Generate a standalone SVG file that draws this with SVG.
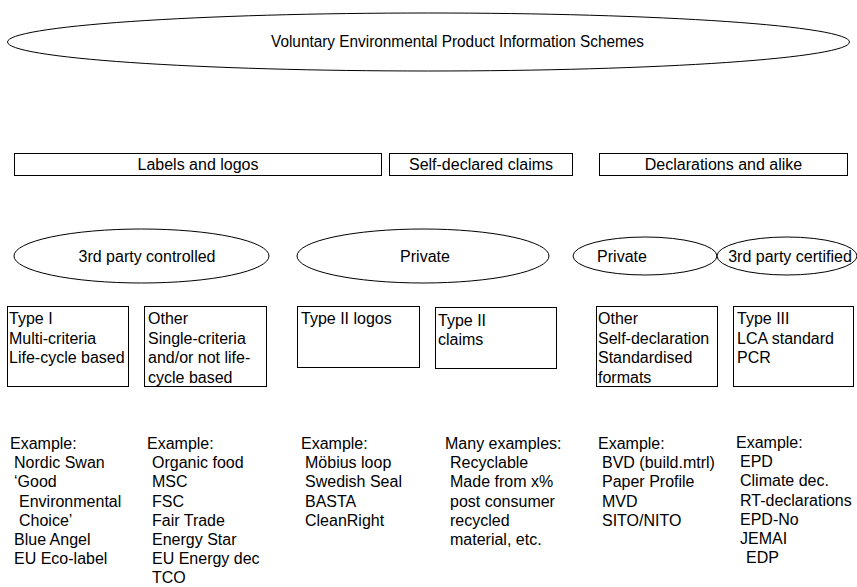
<svg xmlns="http://www.w3.org/2000/svg" width="857" height="587" viewBox="0 0 857 587">
<style>
.s{fill:#fff;stroke:#000;stroke-width:1}
text{font-family:"Liberation Sans",Arial,sans-serif;font-size:16px;fill:#000}
.c{text-anchor:middle}
</style>
<rect width="857" height="587" fill="#fff"/>
<g id="root">
<ellipse class="s" cx="428.5" cy="42" rx="421" ry="29"/>
<text class="c" x="457.5" y="47" textLength="373" lengthAdjust="spacingAndGlyphs">Voluntary Environmental Product Information Schemes</text>
</g>
<g id="labels">
<rect class="s" x="14.5" y="153.5" width="367" height="22"/>
<text class="c" x="198" y="170">Labels and logos</text>
</g>
<g id="selfdeclared">
<rect class="s" x="389.5" y="153.5" width="183" height="22"/>
<text class="c" x="481" y="170">Self-declared claims</text>
</g>
<g id="declarations">
<rect class="s" x="599.5" y="153.5" width="248" height="22"/>
<text class="c" x="723.5" y="170">Declarations and alike</text>
</g>
<g id="thirdparty">
<ellipse class="s" cx="141.5" cy="256" rx="127.5" ry="27"/>
<text class="c" x="147" y="262">3rd party controlled</text>
</g>
<g id="private1">
<ellipse class="s" cx="423" cy="256" rx="126" ry="27"/>
<text class="c" x="425" y="262">Private</text>
</g>
<g id="private2">
<ellipse class="s" cx="645" cy="256" rx="72" ry="19"/>
<text class="c" x="622" y="262">Private</text>
</g>
<g id="thirdcert">
<ellipse class="s" cx="787" cy="256" rx="70" ry="19"/>
<text class="c" x="790" y="262">3rd party certified</text>
</g>
<g id="type1">
<rect class="s" x="7.5" y="306.5" width="121" height="80"/>
<text x="9" y="324"><tspan x="9">Type I</tspan><tspan x="9" dy="19.5">Multi-criteria</tspan><tspan x="9" dy="19.5">Life-cycle based</tspan></text>
</g>
<g id="other1">
<rect class="s" x="144.5" y="306.5" width="122" height="80"/>
<text x="148" y="324"><tspan x="148">Other</tspan><tspan x="148" dy="19.5">Single-criteria</tspan><tspan x="148" dy="19.5">and/or not life-</tspan><tspan x="148" dy="19.5">cycle based</tspan></text>
</g>
<g id="type2logos">
<rect class="s" x="297.5" y="306.5" width="122" height="61"/>
<text x="301" y="324">Type II logos</text>
</g>
<g id="type2claims">
<rect class="s" x="435.5" y="307.5" width="121" height="61"/>
<text x="438" y="326"><tspan x="438">Type II</tspan><tspan x="438" dy="19">claims</tspan></text>
</g>
<g id="other2">
<rect class="s" x="596.5" y="306.5" width="121" height="80"/>
<text x="598" y="324"><tspan x="598">Other</tspan><tspan x="598" dy="19.5">Self-declaration</tspan><tspan x="598" dy="19.5">Standardised</tspan><tspan x="598" dy="19.5">formats</tspan></text>
</g>
<g id="type3">
<rect class="s" x="733.5" y="306.5" width="120" height="80"/>
<text x="737" y="324"><tspan x="737">Type III</tspan><tspan x="737" dy="19.5">LCA standard</tspan><tspan x="737" dy="19.5">PCR</tspan></text>
</g>
<g id="ex1">
<text y="449"><tspan x="10">Example:</tspan><tspan x="14" dy="19.2">Nordic Swan</tspan><tspan x="14" dy="19.2">‘Good</tspan><tspan x="19" dy="19.2">Environmental</tspan><tspan x="19" dy="19.2">Choice’</tspan><tspan x="14" dy="19.2">Blue Angel</tspan><tspan x="14" dy="19.2">EU Eco-label</tspan></text>
</g>
<g id="ex2">
<text y="449"><tspan x="147">Example:</tspan><tspan x="152" dy="19.2">Organic food</tspan><tspan x="152" dy="19.2">MSC</tspan><tspan x="152" dy="19.2">FSC</tspan><tspan x="152" dy="19.2">Fair Trade</tspan><tspan x="152" dy="19.2">Energy Star</tspan><tspan x="152" dy="19.2">EU Energy dec</tspan><tspan x="152" dy="19.2">TCO</tspan></text>
</g>
<g id="ex3">
<text y="449"><tspan x="301">Example:</tspan><tspan x="305" dy="19.2">Möbius loop</tspan><tspan x="305" dy="19.2">Swedish Seal</tspan><tspan x="305" dy="19.2">BASTA</tspan><tspan x="305" dy="19.2">CleanRight</tspan></text>
</g>
<g id="ex4">
<text y="449"><tspan x="445">Many examples:</tspan><tspan x="450" dy="19.2">Recyclable</tspan><tspan x="450" dy="19.2">Made from x%</tspan><tspan x="450" dy="19.2">post consumer</tspan><tspan x="450" dy="19.2">recycled</tspan><tspan x="450" dy="19.2">material, etc.</tspan></text>
</g>
<g id="ex5">
<text y="449"><tspan x="598">Example:</tspan><tspan x="602" dy="19.2">BVD (build.mtrl)</tspan><tspan x="602" dy="19.2">Paper Profile</tspan><tspan x="602" dy="19.2">MVD</tspan><tspan x="602" dy="19.2">SITO/NITO</tspan></text>
</g>
<g id="ex6">
<text y="448"><tspan x="736">Example:</tspan><tspan x="740" dy="19.2">EPD</tspan><tspan x="740" dy="19.2">Climate dec.</tspan><tspan x="740" dy="19.2">RT-declarations</tspan><tspan x="740" dy="19.2">EPD-No</tspan><tspan x="740" dy="19.2">JEMAI</tspan><tspan x="746" dy="19.2">EDP</tspan></text>
</g>
<g id="connectors"></g>
</svg>
